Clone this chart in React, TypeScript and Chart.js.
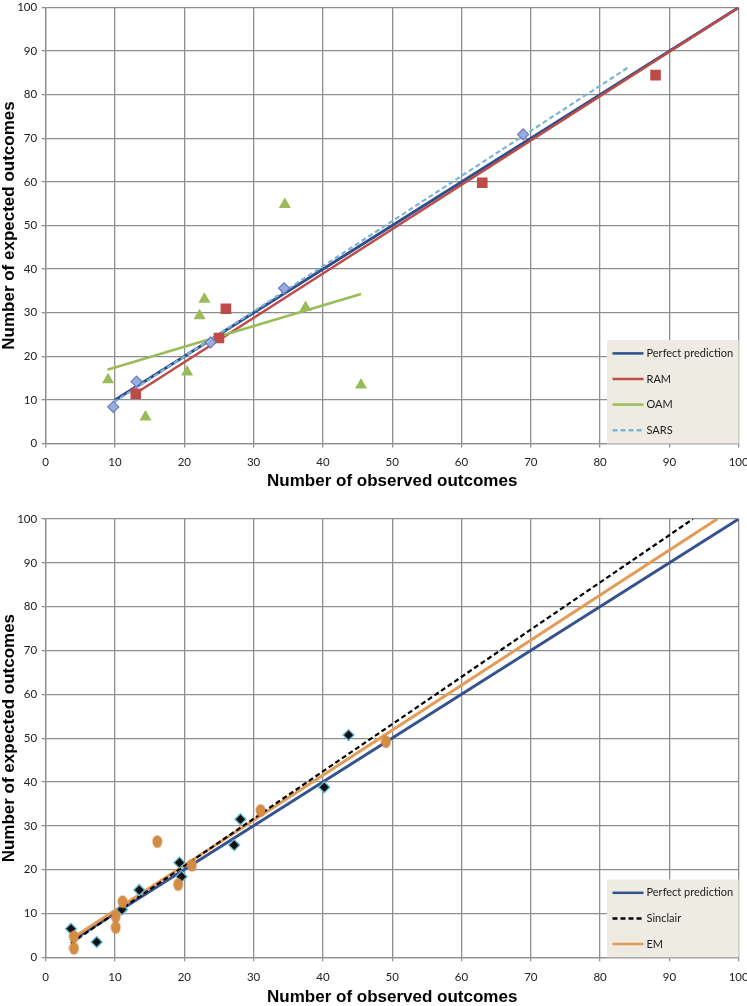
import React, { useEffect, useRef } from 'react';
import { Chart, registerables } from 'chart.js';

Chart.register(...registerables);

// ---------- Top panel data ----------
const perfectTopX = [10, 100];
const perfectTopY = [10, 100];

const ramX = [13.0, 25.0, 26.0, 63.0, 88.0];
const ramY = [11.4, 24.2, 30.9, 59.8, 84.5];
const ramLineX = [12.5, 100];
const ramLineY = [11.0, 100];

const oamX = [9.0, 14.4, 20.4, 22.2, 22.9, 34.5, 37.5, 45.5];
const oamY = [14.6, 6.1, 16.4, 29.3, 33.1, 54.8, 31.2, 13.4];
const oamLineX = [8.9, 45.5];
const oamLineY = [16.9, 34.3];

const sarsX = [9.75, 13.1, 23.8, 34.4, 68.9];
const sarsY = [8.4, 14.2, 23.2, 35.6, 70.9];
const sarsLineX = [9.8, 84.0];
const sarsLineY = [9.4, 86.2];

// ---------- Bottom panel data ----------
const perfectBottomX = [3.65, 100];
const perfectBottomY = [3.65, 100];

const sinclairX = [3.65, 7.36, 11.0, 13.5, 19.3, 19.6, 27.2, 28.1, 40.2, 43.7];
const sinclairY = [6.5, 3.5, 10.9, 15.35, 21.6, 18.4, 25.6, 31.5, 38.8, 50.7];
const sinclairLineX = [3.65, 93.4];
const sinclairLineY = [3.2, 100];

const emX = [4.08, 4.08, 10.1, 10.1, 11.1, 16.1, 19.1, 21.1, 31.0, 49.1];
const emY = [4.7, 2.05, 9.3, 6.8, 12.7, 26.4, 16.6, 21.0, 33.5, 49.2];
const emLineX = [3.65, 96.9];
const emLineY = [4.2, 100];

// ---------- Axis text ----------
const xTitle = 'Number of observed outcomes';
const yTitle = 'Number of expected outcomes';
const axisMin = 0;
const axisMax = 100;
const axisStep = 10;

const pts = (xs: number[], ys: number[]) => xs.map((x, i) => ({ x, y: ys[i] }));

const GRID = '#8e8e8e';

const legendBoxPlugin = {
  id: 'legendBox',
  afterDraw(chart: any) {
    const items = chart.data.datasets.filter((d: any) => d.inLegend);
    const { ctx, chartArea } = chart;
    const rowH = 25.6;
    const padY = 13.3;
    const w = 131.7;
    const h = padY * 2 + rowH * (items.length - 1);
    const x0 = chartArea.right - w;
    const y0 = chartArea.bottom - h;
    ctx.save();
    ctx.fillStyle = '#edebe2';
    ctx.fillRect(x0, y0, w, h);
    ctx.font = '11px Lato';
    ctx.textBaseline = 'middle';
    ctx.textAlign = 'left';
    items.forEach((d: any, i: number) => {
      const y = y0 + padY + i * rowH;
      ctx.beginPath();
      ctx.strokeStyle = d.borderColor;
      ctx.lineWidth = 2.5;
      ctx.setLineDash(d.borderDash || []);
      ctx.moveTo(x0 + 5.5, y);
      ctx.lineTo(x0 + 36.5, y);
      ctx.stroke();
      ctx.setLineDash([]);
      ctx.fillStyle = '#1a1a1a';
      ctx.fillText(d.label, x0 + 39.5, y);
    });
    ctx.restore();
  },
};

type PanelProps = {
  height: number;
  padTop: number;
  xAxisHeight: number;
  tickPad: number;
  titlePadBottom: number;
  makeDatasets: () => any[];
};

function ScatterPanel({ height, padTop, xAxisHeight, tickPad, titlePadBottom, makeDatasets }: PanelProps) {
  const ref = useRef<HTMLCanvasElement>(null);
  useEffect(() => {
    if (!ref.current) return;
    const tickFont = { family: 'Lato', size: 11.5 };
    const titleFont = { family: 'Liberation Sans', size: 17, weight: 'bold' as const, lineHeight: 1 };
    const chart = new Chart(ref.current, {
      type: 'scatter',
      data: { datasets: makeDatasets() },
      options: {
        animation: false,
        responsive: false,
        devicePixelRatio: 1,
        layout: { padding: { top: padTop, right: 8.3, bottom: 0, left: 0 } },
        plugins: { legend: { display: false }, tooltip: { enabled: false } },
        scales: {
          x: {
            type: 'linear',
            min: axisMin,
            max: axisMax,
            ticks: { stepSize: axisStep, font: tickFont, color: '#222', padding: tickPad },
            grid: { color: GRID, lineWidth: 1.3, tickLength: 4, tickColor: GRID, drawTicks: true },
            border: { color: GRID, width: 1.3 },
            title: {
              display: true,
              text: xTitle,
              font: titleFont,
              color: '#000',
              padding: { top: 0, bottom: titlePadBottom },
            },
            afterFit: (s: any) => {
              s.height = xAxisHeight;
              s.paddingLeft = 0;
              s.paddingRight = 0;
            },
          },
          y: {
            type: 'linear',
            min: axisMin,
            max: axisMax,
            ticks: { stepSize: axisStep, font: tickFont, color: '#222', padding: 4.5 },
            grid: { color: GRID, lineWidth: 1.3, tickLength: 4, tickColor: GRID, drawTicks: true },
            border: { color: GRID, width: 1.3 },
            title: {
              display: true,
              text: yTitle,
              font: titleFont,
              color: '#000',
              padding: { top: 1, bottom: 0 },
            },
            afterFit: (s: any) => {
              s.width = 45.7;
              s.paddingTop = 0;
              s.paddingBottom = 0;
            },
          },
        },
      } as any,
      plugins: [legendBoxPlugin],
    });
    return () => chart.destroy();
  }, []);
  return <canvas ref={ref} width={747} height={height} style={{ display: 'block' }} />;
}

const lineDs = (label: string, xs: number[], ys: number[], color: string, width: number, order: number, dash?: number[]) => ({
  label,
  inLegend: true,
  data: pts(xs, ys),
  showLine: true,
  borderColor: color,
  backgroundColor: color,
  borderWidth: width,
  borderDash: dash,
  pointRadius: 0,
  order,
});

const topDatasets = () => [
  {
    label: 'SARS points',
    data: pts(sarsX, sarsY),
    pointStyle: 'rectRot',
    pointRadius: 5.5,
    backgroundColor: '#98addc',
    borderColor: '#6c7bc2',
    borderWidth: 1.2,
    order: 1,
  },
  {
    label: 'RAM points',
    data: pts(ramX, ramY),
    pointStyle: 'rect',
    pointRadius: 7.5,
    backgroundColor: '#be4b48',
    borderColor: '#be4b48',
    borderWidth: 0,
    order: 2,
  },
  {
    label: 'OAM points',
    data: pts(oamX, oamY),
    pointStyle: 'triangle',
    pointRadius: 7,
    backgroundColor: '#9bbb59',
    borderColor: '#9bbb59',
    borderWidth: 0,
    order: 3,
  },
  lineDs('Perfect prediction', perfectTopX, perfectTopY, '#2f4e8c', 3, 13),
  lineDs('RAM', ramLineX, ramLineY, '#be4b48', 2.5, 12),
  lineDs('OAM', oamLineX, oamLineY, '#9bbb59', 2.5, 11),
  lineDs('SARS', sarsLineX, sarsLineY, '#7fb3d6', 2.2, 10, [5, 3]),
];

const bottomDatasets = () => {
  const c = document.createElement('canvas');
  c.width = 11;
  c.height = 14;
  const g = c.getContext('2d')!;
  g.fillStyle = '#d28c45';
  g.beginPath();
  g.ellipse(5.5, 7, 4.9, 6.3, 0, 0, Math.PI * 2);
  g.fill();
  return [
    {
      label: 'EM points',
      data: pts(emX, emY),
      pointStyle: c,
      pointRadius: 6,
      backgroundColor: '#d28c45',
      order: 1,
    },
    {
      label: 'Sinclair points',
      data: pts(sinclairX, sinclairY),
      pointStyle: 'rectRot',
      pointRadius: 5.5,
      backgroundColor: '#111111',
      borderColor: '#62b9d2',
      borderWidth: 1.3,
      order: 2,
    },
    lineDs('Perfect prediction', perfectBottomX, perfectBottomY, '#35528f', 3, 13),
    lineDs('Sinclair', sinclairLineX, sinclairLineY, '#000000', 2.2, 11, [5, 3]),
    lineDs('EM', emLineX, emLineY, '#e39b55', 3, 12),
  ];
};

export default function App() {
  return (
    <div style={{ position: 'absolute', left: 0, top: 0, width: 747, height: 1006, background: '#fff' }}>
      <ScatterPanel height={497} padTop={5} xAxisHeight={53.5} tickPad={8} titlePadBottom={7.5} makeDatasets={topDatasets} />
      <ScatterPanel height={509} padTop={22} xAxisHeight={48.7} tickPad={9.5} titlePadBottom={0.5} makeDatasets={bottomDatasets} />
    </div>
  );
}
